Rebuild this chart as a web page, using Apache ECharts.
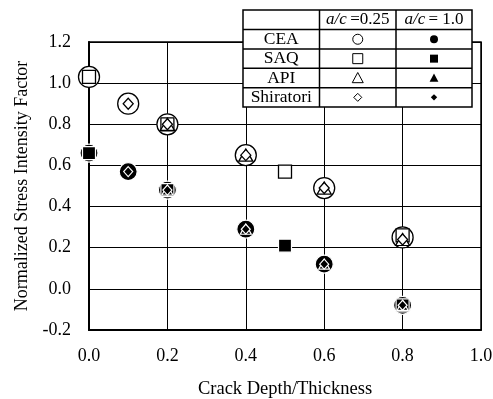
<!DOCTYPE html>
<html><head><meta charset="utf-8">
<script src="https://cdn.jsdelivr.net/npm/echarts@6/dist/echarts.min.js"></script>
<style>html,body{margin:0;padding:0;background:#fff}#c{width:493px;height:399px}</style>
</head><body><div id="c"></div>
<script>
// Method names and their marker shapes
const methods = ['CEA', 'SAQ', 'API', 'Shiratori'];
const shapes = ['circle', 'rect', 'triangle', 'diamond'];

// a/c = 0.25 : [crack depth / thickness, normalized SIF]
const ceaLow = [[0, 1.03], [0.1, 0.90], [0.2, 0.80], [0.4, 0.65], [0.6, 0.49], [0.8, 0.25]];
const saqLow = [[0, 1.03], [0.2, 0.80], [0.5, 0.57], [0.8, 0.26]];
const apiLow = [[0.2, 0.80], [0.4, 0.65], [0.6, 0.49], [0.8, 0.24]];
const shiLow = [[0.1, 0.90], [0.2, 0.80], [0.4, 0.65], [0.6, 0.49], [0.8, 0.24]];

// a/c = 1.0
const ceaHigh = [[0, 0.66], [0.1, 0.57], [0.2, 0.48], [0.4, 0.29], [0.6, 0.12], [0.8, -0.08]];
const saqHigh = [[0, 0.66], [0.2, 0.48], [0.5, 0.21], [0.8, -0.08]];
const apiHigh = [[0.2, 0.48], [0.4, 0.29], [0.6, 0.12], [0.8, -0.08]];
const shiHigh = [[0.1, 0.57], [0.2, 0.48], [0.4, 0.29], [0.6, 0.12], [0.8, -0.08]];

const lowSets = [ceaLow, saqLow, apiLow, shiLow];
const highSets = [ceaHigh, saqHigh, apiHigh, shiHigh];

const FONT = "'Liberation Serif', 'Times New Roman', serif";

// marker sizes per shape
const openSize = [21, 13, [14, 12], [10, 11]];
const fillSize = [18, 13, [11, 10], [9, 10]];

const series = [];
lowSets.forEach((d, i) => {
  series.push({
    name: methods[i] + ' a/c=0.25', type: 'scatter', data: d,
    symbol: shapes[i], symbolSize: openSize[i], z: 2 + i,
    itemStyle: { color: '#fff', borderColor: '#000', borderWidth: 1.3, opacity: 1 }
  });
});
highSets.forEach((d, i) => {
  series.push({
    name: methods[i] + ' a/c=1.0', type: 'scatter', data: d,
    symbol: shapes[i], symbolSize: fillSize[i], z: 2 + i,
    itemStyle: { color: '#000', borderColor: '#fff', borderWidth: 1.2, opacity: 1 }
  });
});

// legend table geometry
const T = { x: 243, y: 10, w: 229, h: 97 };
const colX = [243, 319.5, 396, 472];
const rowY = [10, 29.5, 49, 68.3, 87.7, 107];
const tbl = [];
tbl.push({ type: 'rect', shape: { x: T.x, y: T.y, width: T.w, height: T.h },
  style: { fill: '#fff', stroke: '#000', lineWidth: 1.5 }, z: 100 });
colX.slice(1, 3).forEach(x => tbl.push({ type: 'line', shape: { x1: x, y1: T.y, x2: x, y2: T.y + T.h },
  style: { stroke: '#000', lineWidth: 1.5 }, z: 101 }));
rowY.slice(1, 5).forEach(y => tbl.push({ type: 'line', shape: { x1: T.x, y1: y, x2: T.x + T.w, y2: y },
  style: { stroke: '#000', lineWidth: 1.5 }, z: 101 }));
const cx = i => (colX[i] + colX[i + 1]) / 2;
const cy = r => (rowY[r] + rowY[r + 1]) / 2;
const rich = { i: { fontStyle: 'italic', fontFamily: FONT, fontSize: 17, fill: '#000' },
               n: { fontFamily: FONT, fontSize: 17, fill: '#000' } };
tbl.push({ type: 'text', x: cx(1), y: cy(0), z: 102,
  style: { text: '{i|a/c} {n|=0.25}', rich, align: 'center', verticalAlign: 'middle' } });
tbl.push({ type: 'text', x: cx(2), y: cy(0), z: 102,
  style: { text: '{i|a/c} {n|= 1.0}', rich, align: 'center', verticalAlign: 'middle' } });
methods.forEach((m, i) => {
  tbl.push({ type: 'text', x: cx(0), y: cy(i + 1), z: 102,
    style: { text: m, fontFamily: FONT, fontSize: 17.5, fill: '#000', align: 'center', verticalAlign: 'middle' } });
});
function legendMark(shape, x, y, filled) {
  const st = filled ? { fill: '#000', stroke: null } : { fill: '#fff', stroke: '#000', lineWidth: 1 };
  const s = filled ? 0.8 : 1;
  if (shape === 'circle') return { type: 'circle', shape: { cx: x, cy: y, r: 5 * s }, style: st, z: 102 };
  if (shape === 'rect') { const h = 5 * s; return { type: 'rect', shape: { x: x - h, y: y - h, width: 2 * h, height: 2 * h }, style: st, z: 102 }; }
  if (shape === 'triangle') { const h = 5.5 * s; return { type: 'polygon', shape: { points: [[x, y - h], [x + h, y + h * 0.85], [x - h, y + h * 0.85]] }, style: st, z: 102 }; }
  const h = 4 * s;
  return { type: 'polygon', shape: { points: [[x, y - h], [x + h, y], [x, y + h], [x - h, y]] }, style: st, z: 102 };
}
shapes.forEach((sh, i) => {
  tbl.push(legendMark(sh, cx(1), cy(i + 1), false));
  tbl.push(legendMark(sh, cx(2), cy(i + 1), true));
});

const chart = echarts.init(document.getElementById('c'), null, { renderer: 'canvas' });
chart.setOption({
  animation: false,
  backgroundColor: '#fff',
  grid: { left: 89, right: 12, top: 42, bottom: 69, show: true, borderColor: '#000', borderWidth: 1.5,
          backgroundColor: 'transparent', containLabel: false, outerBoundsMode: 'none' },
  xAxis: {
    type: 'value', min: 0, max: 1, interval: 0.2,
    name: 'Crack Depth/Thickness', nameLocation: 'middle', nameGap: 50,
    nameTextStyle: { fontFamily: FONT, fontSize: 18.5, color: '#000' },
    axisLine: { show: true, onZero: false, lineStyle: { color: '#000', width: 2 } },
    axisTick: { show: false },
    axisLabel: { fontFamily: FONT, fontSize: 18, color: '#000', margin: 17, formatter: v => v.toFixed(1) },
    splitLine: { show: true, lineStyle: { color: '#000', width: 1 } }
  },
  yAxis: {
    type: 'value', min: -0.2, max: 1.2, interval: 0.2,
    name: 'Normalized Stress Intensity Factor', nameLocation: 'middle', nameGap: 58,
    nameTextStyle: { fontFamily: FONT, fontSize: 18, color: '#000' },
    axisLine: { show: true, onZero: false, lineStyle: { color: '#000', width: 2 } },
    axisTick: { show: false },
    axisLabel: { fontFamily: FONT, fontSize: 18, color: '#000', margin: 18, formatter: v => v.toFixed(1) },
    splitLine: { show: true, lineStyle: { color: '#000', width: 1 } }
  },
  series,
  graphic: tbl
});
</script>
</body></html>
